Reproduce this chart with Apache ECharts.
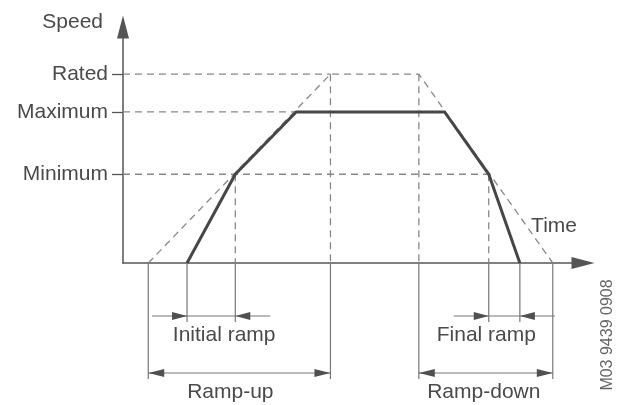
<!DOCTYPE html>
<html>
<head>
<meta charset="utf-8">
<title>Speed ramps</title>
<script src="https://cdn.jsdelivr.net/npm/echarts@6/dist/echarts.min.js"></script>
<style>
  html, body { margin: 0; padding: 0; background: #ffffff; }
  #chart { width: 626px; height: 405px; }
</style>
</head>
<body>
<div id="chart"></div>
<script>
// Speed levels on the vertical axis (% of rated speed)
const speedLevelNames = ['Minimum', 'Maximum', 'Rated'];
const speedLevelValues = [47, 80, 100];

// Nominal ramp: rated speed reached along the dashed slopes
const nominalTimes = [5.6, 46, 65.6, 95.3];
const nominalSpeeds = [0, 100, 100, 0];

// Actual speed profile (thick line)
const profileTimes = [14.2, 24.9, 38.4, 71.3, 81.1, 88.0];
const profileSpeeds = [0, 47, 80, 80, 47, 0];

// Dimensioned time intervals below the time axis
const intervalNames = ['Initial ramp', 'Ramp-up', 'Final ramp', 'Ramp-down'];
const intervalStarts = [14.2, 5.6, 81.1, 65.6];
const intervalEnds = [24.9, 46, 88.0, 95.3];

const axisNames = ['Speed', 'Time'];
const drawingNumber = 'M03 9439 0908';

// Layout of the dimension rows (pixels below the time axis)
const rowDrop = [53, 110, 53, 110];
const arrowsOutside = [true, false, true, false];
const labelShift = [13, -9, -18, -2];

const FONT = '"Liberation Sans", Arial, sans-serif';
const TEXT = '#4a4a4a';
const AXIS = '#555555';
const GUIDE = '#888888';
const DIM = '#777777';

function speedAt(t) {
  for (let i = 0; i < profileTimes.length; i++) {
    if (profileTimes[i] === t) return profileSpeeds[i];
  }
  for (let i = 0; i < nominalTimes.length; i++) {
    if (nominalTimes[i] === t) return nominalSpeeds[i];
  }
  return 0;
}

// Where each level's dashed guide stops
const levelGuideEnds = speedLevelValues.map(v => {
  if (v === nominalSpeeds[1]) return nominalTimes[1];
  if (v === profileSpeeds[2]) return profileTimes[2];
  let last = 0;
  profileTimes.forEach((t, i) => { if (profileSpeeds[i] === v) last = t; });
  return last;
});

function zip(xs, ys) { return xs.map((x, i) => [x, ys[i]]); }

function renderAnnotations(params, api) {
  const children = [];
  const dashStyle = { stroke: GUIDE, lineWidth: 1.3, lineDash: [7, 5], fill: null };
  const dimStyle = { stroke: DIM, lineWidth: 1.2, fill: null };
  const line = (a, b, style) => children.push({
    type: 'line', shape: { x1: a[0], y1: a[1], x2: b[0], y2: b[1] }, style: style
  });
  const arrowHead = (tipX, y, dir, len) => children.push({
    type: 'polygon',
    shape: { points: [[tipX, y], [tipX - dir * len, y - 4], [tipX - dir * len, y + 4]] },
    style: { fill: '#505050', stroke: null }
  });

  // horizontal speed-level guides
  speedLevelValues.forEach((v, i) => {
    line(api.coord([0, v]), api.coord([levelGuideEnds[i], v]), dashStyle);
  });

  // interval dimensions
  intervalNames.forEach((name, i) => {
    const t0 = intervalStarts[i], t1 = intervalEnds[i];
    const a0 = api.coord([t0, 0]), a1 = api.coord([t1, 0]);
    const yRow = a0[1] + rowDrop[i];
    [t0, t1].forEach(t => {
      const base = api.coord([t, 0]);
      const s = speedAt(t);
      if (s > 0) line(api.coord([t, s]), base, dashStyle);
      line(base, [base[0], yRow + 6], dimStyle);
    });
    if (arrowsOutside[i]) {
      line([a0[0] - 35, yRow], [a1[0] + 35, yRow], dimStyle);
      arrowHead(a0[0], yRow, 1, 15);
      arrowHead(a1[0], yRow, -1, 15);
    } else {
      line([a0[0], yRow], [a1[0], yRow], dimStyle);
      arrowHead(a0[0], yRow, -1, 16);
      arrowHead(a1[0], yRow, 1, 16);
    }
    children.push({
      type: 'text',
      style: {
        text: name, x: (a0[0] + a1[0]) / 2 + labelShift[i], y: yRow + 19,
        align: 'center', verticalAlign: 'middle', font: '21px ' + FONT, fill: TEXT
      }
    });
  });

  // drawing number along the right edge
  const origin = api.coord([0, 0]);
  children.push({
    type: 'text', x: api.getWidth() - 18, y: origin[1] + 72, rotation: Math.PI / 2,
    style: {
      text: drawingNumber, x: 0, y: 0, align: 'center', verticalAlign: 'middle',
      font: '16px ' + FONT, fill: '#666666'
    }
  });

  return { type: 'group', children: children };
}

const chart = echarts.init(document.getElementById('chart'), null, { renderer: 'canvas' });

chart.setOption({
  animation: false,
  backgroundColor: '#ffffff',
  grid: { left: 123, right: 43, top: 27, bottom: 142, containLabel: false, outerBoundsMode: 'none' },
  xAxis: {
    type: 'value', min: 0, max: 102,
    name: axisNames[1], nameLocation: 'end', nameGap: -6,
    nameTextStyle: { fontFamily: FONT, fontSize: 21, color: TEXT, align: 'right', verticalAlign: 'bottom', padding: [0, 0, 26, 0] },
    axisLine: { show: true, onZero: true, symbol: ['none', 'triangle'], symbolSize: [12, 23], lineStyle: { color: AXIS, width: 1.5 } },
    axisTick: { show: false }, axisLabel: { show: false }, splitLine: { show: false }
  },
  yAxis: {
    type: 'value', min: 0, max: 125,
    name: axisNames[0], nameLocation: 'end', nameGap: 5, nameMoveOverlap: false,
    nameTextStyle: { fontFamily: FONT, fontSize: 21, color: TEXT, align: 'right', verticalAlign: 'middle', padding: [0, 20, 0, 0] },
    axisLine: { show: true, symbol: ['none', 'triangle'], symbolSize: [12, 23], lineStyle: { color: AXIS, width: 1.5 } },
    axisTick: { show: true, customValues: speedLevelValues, length: 11, lineStyle: { color: AXIS, width: 1.3 } },
    axisLabel: {
      show: true, customValues: speedLevelValues, margin: 15,
      fontFamily: FONT, fontSize: 21, color: TEXT,
      formatter: v => speedLevelNames[speedLevelValues.indexOf(v)]
    },
    splitLine: { show: false }
  },
  series: [
    {
      type: 'custom', coordinateSystem: 'cartesian2d', clip: false, silent: true, z: 1,
      data: [[0, 0]], renderItem: renderAnnotations
    },
    {
      name: 'Nominal', type: 'line', data: zip(nominalTimes, nominalSpeeds),
      symbol: 'none', silent: true, z: 2,
      lineStyle: { color: GUIDE, width: 1.3, type: [7, 5] }
    },
    {
      name: 'Speed', type: 'line', data: zip(profileTimes, profileSpeeds),
      symbol: 'none', silent: true, z: 3,
      lineStyle: { color: '#474747', width: 3, join: 'miter' }
    }
  ]
});
</script>
</body>
</html>
